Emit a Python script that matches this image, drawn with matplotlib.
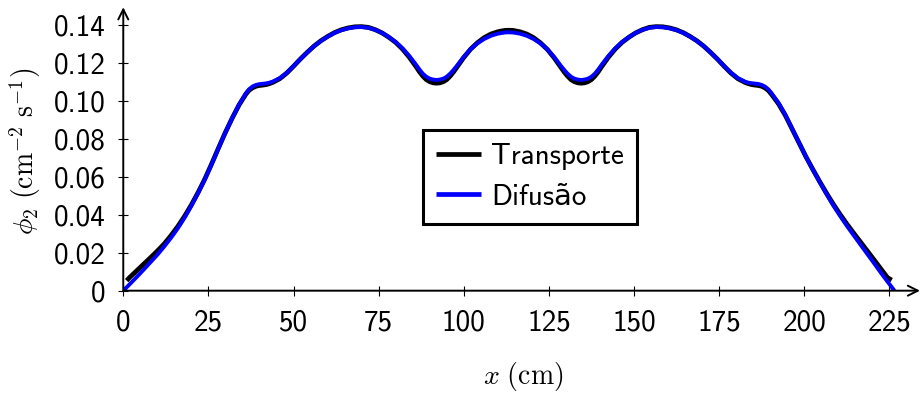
import numpy as np
import matplotlib.pyplot as plt

plt.rcParams['font.family'] = ['cmss10', 'DejaVu Sans']
plt.rcParams['mathtext.fontset'] = 'cm'

# Transporte (black)
x_transporte = [1.0, 2, 4, 6, 8, 10, 12, 14, 16, 18, 20, 22, 24, 26, 28, 30, 32, 34, 36, 37, 38, 39,
                40, 41, 42, 43, 44, 46, 48, 50, 52, 54, 56, 58, 60, 62, 64, 66, 68, 70, 72, 74,
                76, 78, 80, 82, 84, 86, 87, 88, 89, 90, 91, 92, 93, 94, 95, 96, 97, 98, 100,
                102, 104, 106, 108, 110, 112, 113.25,
                114.5, 116.5, 118.5, 120.5, 122.5, 124.5, 126.5, 128.5, 129.5, 130.5, 131.5,
                132.5, 133.5, 134.5, 135.5, 136.5, 137.5, 138.5, 139.5, 140.5, 142.5, 144.5,
                146.5, 148.5, 150.5, 152.5, 154.5, 156.5, 158.5, 160.5, 162.5, 164.5, 166.5,
                168.5, 170.5, 172.5, 174.5, 176.5, 178.5, 180.5, 182.5, 183.5, 184.5, 185.5,
                186.5, 187.5, 188.5, 189.5, 190.5, 192.5, 194.5, 196.5, 198.5, 200.5, 202.5,
                204.5, 206.5, 208.5, 210.5, 212.5, 214.5, 216.5, 218.5, 220.5, 222.5, 224.5,
                225.7]
phi_transporte = [0.0053, 0.0072, 0.0106, 0.0140, 0.0174, 0.0209, 0.0246, 0.0290, 0.0338, 0.0392,
                  0.0452, 0.0518, 0.0590, 0.0670, 0.0753, 0.0834, 0.0909, 0.0978, 0.1035, 0.1056,
                  0.1069, 0.1077, 0.1081, 0.1083, 0.1086, 0.1091, 0.1098, 0.1117, 0.1146, 0.1182,
                  0.1220, 0.1255, 0.1288, 0.1316, 0.1339, 0.1359, 0.1374, 0.1384, 0.1390, 0.1391,
                  0.1387, 0.1375, 0.1358, 0.1335, 0.1308, 0.1273, 0.1230, 0.1180, 0.1153, 0.1130,
                  0.1112, 0.1101, 0.1095, 0.1093, 0.1095, 0.1101, 0.1112, 0.1130, 0.1152, 0.1177,
                  0.1228, 0.1272, 0.1306, 0.1333, 0.1352, 0.1364, 0.1371, 0.1372,
                  0.1371, 0.1364, 0.1352, 0.1333, 0.1306, 0.1272, 0.1228, 0.1177, 0.1152, 0.1130,
                  0.1112, 0.1101, 0.1095, 0.1093, 0.1095, 0.1101, 0.1112, 0.1130, 0.1153, 0.1180,
                  0.1230, 0.1273, 0.1308, 0.1335, 0.1358, 0.1375, 0.1387, 0.1391, 0.1390, 0.1384,
                  0.1374, 0.1359, 0.1339, 0.1316, 0.1288, 0.1255, 0.1220, 0.1182, 0.1146, 0.1117,
                  0.1098, 0.1091, 0.1086, 0.1083, 0.1081, 0.1077, 0.1068, 0.1054, 0.1032, 0.0983,
                  0.0922, 0.0850, 0.0777, 0.0706, 0.0640, 0.0576, 0.0515, 0.0457, 0.0403, 0.0352,
                  0.0304, 0.0257, 0.0210, 0.0163, 0.0115, 0.0068, 0.0056]

# Difusao (blue)
x_difusao = [0, 2, 4, 6, 8, 10, 12, 14, 16, 18, 20, 22, 24, 26, 28, 30, 32, 34, 36, 37, 38, 39,
             40, 41, 42, 43, 44, 46, 48, 50, 52, 54, 56, 58, 60, 62, 64, 66, 68, 70, 72, 74,
             76, 78, 80, 82, 84, 86, 87, 88, 89, 90, 91, 92, 93, 94, 95, 96, 97, 98, 100,
             102, 104, 106, 108, 110, 112, 113.25,
             114.5, 116.5, 118.5, 120.5, 122.5, 124.5, 126.5, 128.5, 129.5, 130.5, 131.5,
             132.5, 133.5, 134.5, 135.5, 136.5, 137.5, 138.5, 139.5, 140.5, 142.5, 144.5,
             146.5, 148.5, 150.5, 152.5, 154.5, 156.5, 158.5, 160.5, 162.5, 164.5, 166.5,
             168.5, 170.5, 172.5, 174.5, 176.5, 178.5, 180.5, 182.5, 183.5, 184.5, 185.5,
             186.5, 187.5, 188.5, 189.5, 190.5, 192.5, 194.5, 196.5, 198.5, 200.5, 202.5,
             204.5, 206.5, 208.5, 210.5, 212.5, 214.5, 216.5, 218.5, 220.5, 222.5, 224.5,
             226.5]
phi_difusao = [0.0000, 0.0036, 0.0073, 0.0111, 0.0150, 0.0189, 0.0232, 0.0278, 0.0328, 0.0384,
               0.0447, 0.0515, 0.0588, 0.0668, 0.0752, 0.0834, 0.0910, 0.0980, 0.1040, 0.1062,
               0.1076, 0.1084, 0.1088, 0.1090, 0.1092, 0.1096, 0.1102, 0.1120, 0.1148, 0.1183,
               0.1220, 0.1255, 0.1288, 0.1315, 0.1338, 0.1358, 0.1372, 0.1382, 0.1388, 0.1389,
               0.1385, 0.1374, 0.1358, 0.1336, 0.1310, 0.1277, 0.1237, 0.1190, 0.1165, 0.1143,
               0.1127, 0.1117, 0.1112, 0.1110, 0.1112, 0.1117, 0.1127, 0.1143, 0.1163, 0.1185,
               0.1232, 0.1272, 0.1303, 0.1326, 0.1343, 0.1354, 0.1360, 0.1361,
               0.1360, 0.1354, 0.1343, 0.1326, 0.1303, 0.1272, 0.1232, 0.1185, 0.1163, 0.1143,
               0.1127, 0.1117, 0.1112, 0.1110, 0.1112, 0.1117, 0.1127, 0.1143, 0.1165, 0.1190,
               0.1237, 0.1277, 0.1310, 0.1336, 0.1358, 0.1374, 0.1385, 0.1389, 0.1388, 0.1382,
               0.1372, 0.1358, 0.1338, 0.1315, 0.1288, 0.1255, 0.1220, 0.1183, 0.1148, 0.1120,
               0.1102, 0.1096, 0.1093, 0.1091, 0.1089, 0.1084, 0.1075, 0.1060, 0.1038, 0.0988,
               0.0925, 0.0852, 0.0778, 0.0706, 0.0638, 0.0573, 0.0510, 0.0450, 0.0395, 0.0342,
               0.0292, 0.0243, 0.0194, 0.0145, 0.0095, 0.0047, 0.0000]

xticks = [0, 25, 50, 75, 100, 125, 150, 175, 200, 225]
yticks = [0, 0.02, 0.04, 0.06, 0.08, 0.10, 0.12, 0.14]
ytick_labels = ['0', '0.02', '0.04', '0.06', '0.08', '0.10', '0.12', '0.14']

fig = plt.figure(figsize=(9.22, 3.97), dpi=100)
ax = fig.add_axes([0.1337, 0.2678, 0.8641, 0.7139])

ax.plot(x_transporte, phi_transporte, color='black', lw=3.4, label='Transporte',
        solid_capstyle='butt')
ax.plot(x_difusao, phi_difusao, color='#0000ff', lw=2.8, label='Difusão',
        solid_capstyle='butt')

ax.set_xlim(0, 234)
ax.set_ylim(0, 0.1493)

for s in ax.spines.values():
    s.set_visible(False)

arrow = dict(arrowstyle='->', lw=1.4, color='black', shrinkA=0, shrinkB=0, mutation_scale=18)
ax.annotate('', xy=(1, 0), xytext=(0, 0), xycoords='axes fraction', arrowprops=arrow)
ax.annotate('', xy=(0, 1), xytext=(0, 0), xycoords='axes fraction', arrowprops=arrow)

ax.set_xticks(xticks)
ax.set_xticklabels([str(t) for t in xticks])
ax.set_yticks(yticks)
ax.set_yticklabels(ytick_labels)
ax.tick_params(direction='inout', length=7, width=0.8, labelsize=21, pad=9)
ax.tick_params(axis='x', pad=10)

ax.set_xlabel(r'$x\ (\mathrm{cm})$', fontsize=20)
ax.set_ylabel(r'$\phi_2\ (\mathrm{cm}^{-2}\ \mathrm{s}^{-1})$', fontsize=20)
ax.xaxis.set_label_coords(0.502, -0.245)
ax.yaxis.set_label_coords(-0.101, 0.49)

leg = ax.legend(loc='center', bbox_to_anchor=(0.5105, 0.401), fontsize=21, frameon=True,
                fancybox=False, handlelength=1.55, handletextpad=0.35, labelspacing=0.45,
                borderpad=0.45, borderaxespad=0)
leg.get_frame().set_edgecolor('black')
leg.get_frame().set_linewidth(2.2)
leg.get_frame().set_alpha(1)
for line in leg.get_lines():
    line.set_linewidth(3.4)

fig.savefig('out.png', dpi=100)
